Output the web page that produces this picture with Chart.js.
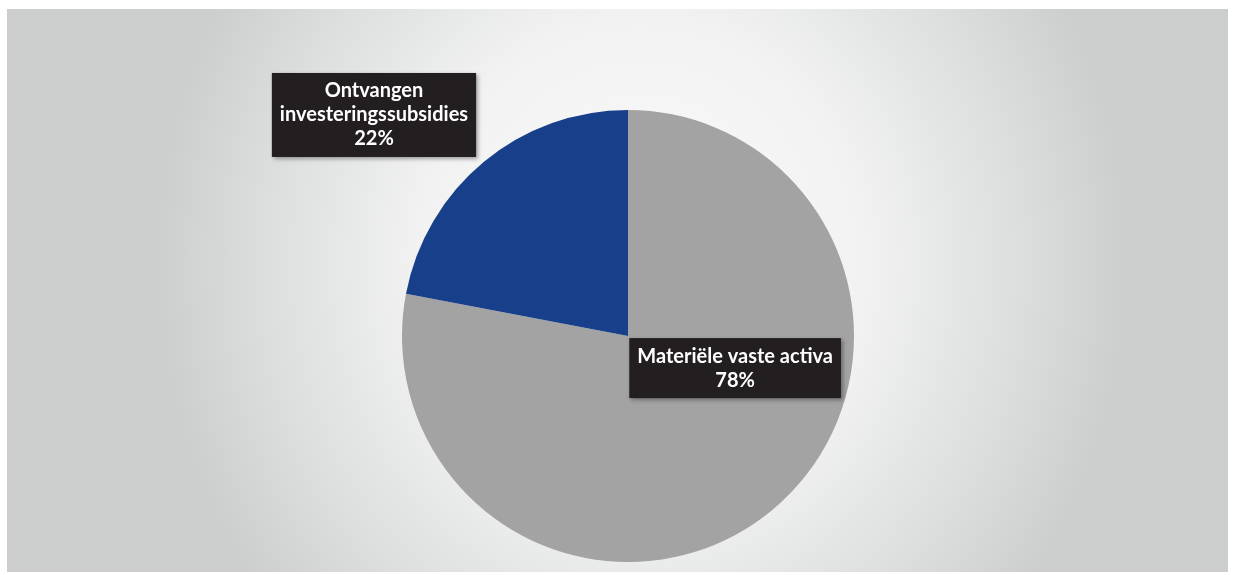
<!DOCTYPE html>
<html>
<head>
<meta charset="utf-8">
<script src="https://cdn.jsdelivr.net/npm/chart.js@4"></script>
<style>
    html, body { margin: 0; padding: 0; background: #ffffff; }
    #wrap {
        position: absolute;
        left: 7px;
        top: 9px;
        width: 1221px;
        height: 563px;
        background: radial-gradient(ellipse 40% 95% at 52% 45%, #fbfbfb 0%, #f2f2f2 45%, #dde0df 75%, #cbcecd 100%);
    }
</style>
</head>
<body>
<div id="wrap"><canvas id="pieChart" width="1221" height="563"></canvas></div>
<script>

const labels = ["Materiële vaste activa", "Ontvangen investeringssubsidies"];
const values = [78, 22];
const colors = ["#a3a3a3", "#173f8a"];

// label lines as shown in the boxes
const labelLines = [
    ["Materiële vaste activa", "78%"],
    ["Ontvangen", "investeringssubsidies", "22%"]
];

// box centre offsets relative to pie centre, in radii
const boxOffsets = [[0.474, 0.142], [-1.124, -0.978]];

const boxLabels = {
    id: "boxLabels",
    afterDatasetsDraw(chart) {

        const ctx = chart.ctx;
        const meta = chart.getDatasetMeta(0);

        ctx.save();
        ctx.font = "bold 20px Lato, 'Open Sans', sans-serif";
        ctx.textAlign = "center";
        ctx.textBaseline = "middle";

        meta.data.forEach((arc, i) => {

            const lines = labelLines[i];
            const lineH = 24;
            let w = 0;
            lines.forEach(l => { w = Math.max(w, ctx.measureText(l).width); });
            const boxW = w + 16;
            const boxH = lines.length * lineH + 12;

            const cx = arc.x + boxOffsets[i][0] * arc.outerRadius;
            const cy = arc.y + boxOffsets[i][1] * arc.outerRadius;

            ctx.shadowColor = "rgba(0,0,0,0.35)";
            ctx.shadowBlur = 4;
            ctx.shadowOffsetX = 2;
            ctx.shadowOffsetY = 2;
            ctx.fillStyle = "#231f20";
            ctx.fillRect(cx - boxW / 2, cy - boxH / 2, boxW, boxH);
            ctx.shadowColor = "transparent";

            ctx.fillStyle = "#ffffff";
            lines.forEach((l, j) => {
                ctx.fillText(l, cx, cy - (lines.length - 1) * lineH / 2 + j * lineH);
            });

        });

        ctx.restore();

    }
};

const ctx = document.getElementById("pieChart").getContext("2d");

new Chart(ctx, {
    type: "pie",
    data: {
        labels: labels,
        datasets: [{
            data: values,
            backgroundColor: colors,
            borderWidth: 0
        }]
    },
    options: {
        responsive: false,
        animation: false,
        layout: {
            padding: { left: 395, right: 374, top: 101, bottom: 10 }
        },
        plugins: {
            legend: { display: false },
            tooltip: { enabled: false }
        }
    },
    plugins: [boxLabels]
});

</script>
</body>
</html>
